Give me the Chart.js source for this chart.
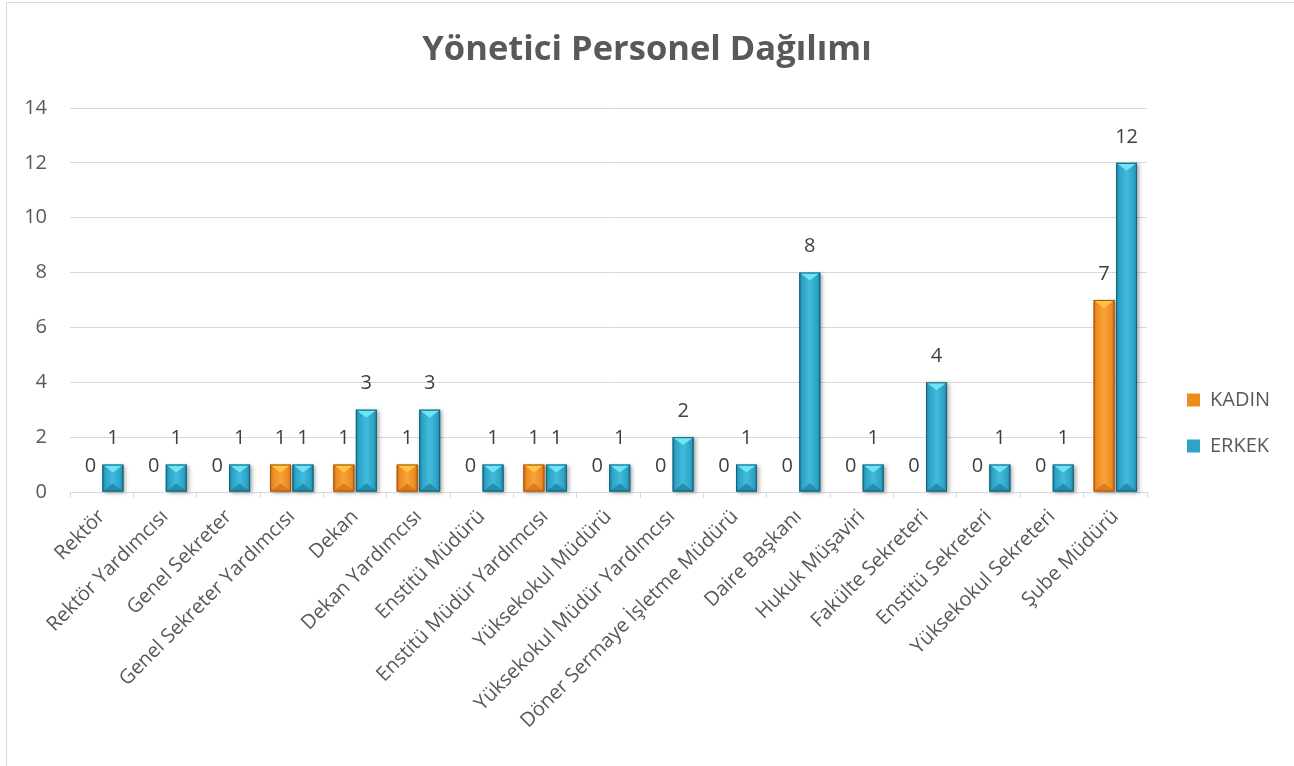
<!DOCTYPE html>
<html lang="tr">
<head>
<meta charset="utf-8">
<title>Yönetici Personel Dağılımı</title>
<script src="https://cdn.jsdelivr.net/npm/chart.js@4.4.1/dist/chart.umd.min.js"></script>
<style>
    html, body { margin: 0; padding: 0; background: #ffffff; overflow: hidden; }
    .frame {
        position: absolute; left: 6px; top: 2px; width: 1320px; height: 820px;
        border: 1px solid #d9d9d9; box-sizing: border-box;
    }
    .chart-box { position: absolute; left: 0; top: 0; width: 1294px; height: 766px; }
</style>
</head>
<body>
<div class="frame"></div>
<div class="chart-box"><canvas id="personelChart"></canvas></div>
<script>
// Chart data
const categories = [
    'Rektör', 'Rektör Yardımcısı', 'Genel Sekreter', 'Genel Sekreter Yardımcısı',
    'Dekan', 'Dekan Yardımcısı', 'Enstitü Müdürü', 'Enstitü Müdür Yardımcısı',
    'Yüksekokul Müdürü', 'Yüksekokul Müdür Yardımcısı', 'Döner Sermaye İşletme Müdürü',
    'Daire Başkanı', 'Hukuk Müşaviri', 'Fakülte Sekreteri', 'Enstitü Sekreteri',
    'Yüksekokul Sekreteri', 'Şube Müdürü'
];
const kadinValues = [0, 0, 0, 1, 1, 1, 0, 1, 0, 0, 0, 0, 0, 0, 0, 0, 7];
const erkekValues = [1, 1, 1, 1, 3, 3, 1, 1, 1, 2, 1, 8, 1, 4, 1, 1, 12];
const yTicks = [0, 2, 4, 6, 8, 10, 12, 14];

const FONT = '"Open Sans", "Noto Sans", sans-serif';
const TEXT_COLOR = '#595959';
const GRID_COLOR = '#d9d9d9';
const LEGEND_WIDTH = 147;

// bevel colours per series
const bevelColors = [
    { edge: '#a5560f', dark: '#d0701a', body: '#f08b20', light: '#f7a23c', top: '#ffc545', bottom: '#dc7a1c' },
    { edge: '#15627a', dark: '#1f83a1', body: '#2ea3c6', light: '#41bbdc', top: '#6ee4f8', bottom: '#238dab' }
];

// Beveled bars, value labels and legend placement
const bevelAndLabels = {
    id: 'bevelAndLabels',
    beforeLayout(chart) {
        const lg = chart.legend;
        if (lg && !lg._fixedWidth) {
            const origFit = lg.fit;
            lg.fit = function () {
                origFit.call(this);
                this.width = LEGEND_WIDTH;
            };
            lg._fixedWidth = true;
        }
    },
    afterLayout(chart) {
        const lg = chart.legend;
        const w = lg.width;
        lg.left = chart.chartArea.right + 14;
        lg.right = lg.left + w;
        lg.top = chart.chartArea.top;
        lg.bottom = 482;
    },
    afterDatasetsDraw(chart) {
        const ctx = chart.ctx;
        chart.data.datasets.forEach((ds, di) => {
            const meta = chart.getDatasetMeta(di);
            const c = bevelColors[di];
            meta.data.forEach(bar => {
                const w = bar.width;
                const left = bar.x - w / 2;
                const right = bar.x + w / 2;
                const top = bar.y;
                const bottom = bar.base;
                if (bottom - top < 0.5) return;

                ctx.save();
                ctx.shadowColor = 'rgba(0,0,0,0.35)';
                ctx.shadowBlur = 4;
                ctx.shadowOffsetX = 2;
                ctx.shadowOffsetY = 1;
                const grad = ctx.createLinearGradient(left, 0, right, 0);
                grad.addColorStop(0, c.dark);
                grad.addColorStop(0.15, c.body);
                grad.addColorStop(0.5, c.light);
                grad.addColorStop(0.85, c.body);
                grad.addColorStop(1, c.dark);
                ctx.fillStyle = grad;
                ctx.fillRect(left, top, w, bottom - top);
                ctx.restore();

                ctx.save();
                const facet = Math.min(w * 0.38, (bottom - top) / 2);
                ctx.fillStyle = c.top;
                ctx.beginPath();
                ctx.moveTo(left, top);
                ctx.lineTo(right, top);
                ctx.lineTo(bar.x, top + facet);
                ctx.closePath();
                ctx.fill();
                ctx.fillStyle = c.bottom;
                ctx.beginPath();
                ctx.moveTo(left, bottom);
                ctx.lineTo(right, bottom);
                ctx.lineTo(bar.x, bottom - facet);
                ctx.closePath();
                ctx.fill();
                ctx.strokeStyle = c.edge;
                ctx.lineWidth = 1;
                ctx.strokeRect(left + 0.5, top + 0.5, w - 1, bottom - top - 1);
                ctx.restore();
            });
        });

        // value labels
        ctx.save();
        ctx.font = '20px ' + FONT;
        ctx.fillStyle = '#404040';
        ctx.textAlign = 'center';
        ctx.textBaseline = 'middle';
        chart.data.datasets.forEach((ds, di) => {
            const meta = chart.getDatasetMeta(di);
            meta.data.forEach((bar, i) => {
                ctx.fillText(String(ds.data[i]), bar.x, bar.y - 26);
            });
        });
        ctx.restore();
    }
};

const ctx = document.getElementById('personelChart').getContext('2d');
new Chart(ctx, {
    type: 'bar',
    data: {
        labels: categories,
        datasets: [
            {
                label: 'KADIN',
                data: kadinValues,
                backgroundColor: '#f08b20',
                borderColor: '#a5560f',
                borderWidth: 0,
                categoryPercentage: 0.71,
                barPercentage: 0.93
            },
            {
                label: 'ERKEK',
                data: erkekValues,
                backgroundColor: '#2ea3c6',
                borderColor: '#15627a',
                borderWidth: 0,
                categoryPercentage: 0.71,
                barPercentage: 0.93
            }
        ]
    },
    options: {
        responsive: true,
        maintainAspectRatio: false,
        animation: false,
        layout: { padding: 0 },
        plugins: {
            title: {
                display: true,
                text: 'Yönetici Personel Dağılımı',
                color: TEXT_COLOR,
                font: { family: FONT, size: 34.5, weight: 'bold', lineHeight: 1.2 },
                padding: { top: 29, bottom: 37.6 }
            },
            legend: {
                position: 'right',
                align: 'end',
                labels: {
                    color: TEXT_COLOR,
                    font: { family: FONT, size: 20 },
                    boxWidth: 13,
                    boxHeight: 13,
                    padding: 26
                }
            },
            tooltip: { enabled: false }
        },
        scales: {
            x: {
                afterFit: s => { s.height = 274; },
                grid: {
                    offset: true,
                    drawOnChartArea: false,
                    drawTicks: true,
                    tickLength: 6,
                    color: GRID_COLOR
                },
                border: { color: GRID_COLOR, width: 1 },
                ticks: {
                    autoSkip: false,
                    minRotation: 45,
                    maxRotation: 45,
                    padding: 7,
                    color: TEXT_COLOR,
                    font: { family: FONT, size: 20 }
                }
            },
            y: {
                min: 0,
                max: 14,
                afterFit: s => { s.width = 70; },
                afterBuildTicks: s => { s.ticks = yTicks.map(v => ({ value: v })); },
                grid: { color: GRID_COLOR, drawTicks: false },
                border: { display: false },
                ticks: {
                    padding: 23,
                    color: TEXT_COLOR,
                    font: { family: FONT, size: 20 }
                }
            }
        }
    },
    plugins: [bevelAndLabels]
});
</script>
</body>
</html>
